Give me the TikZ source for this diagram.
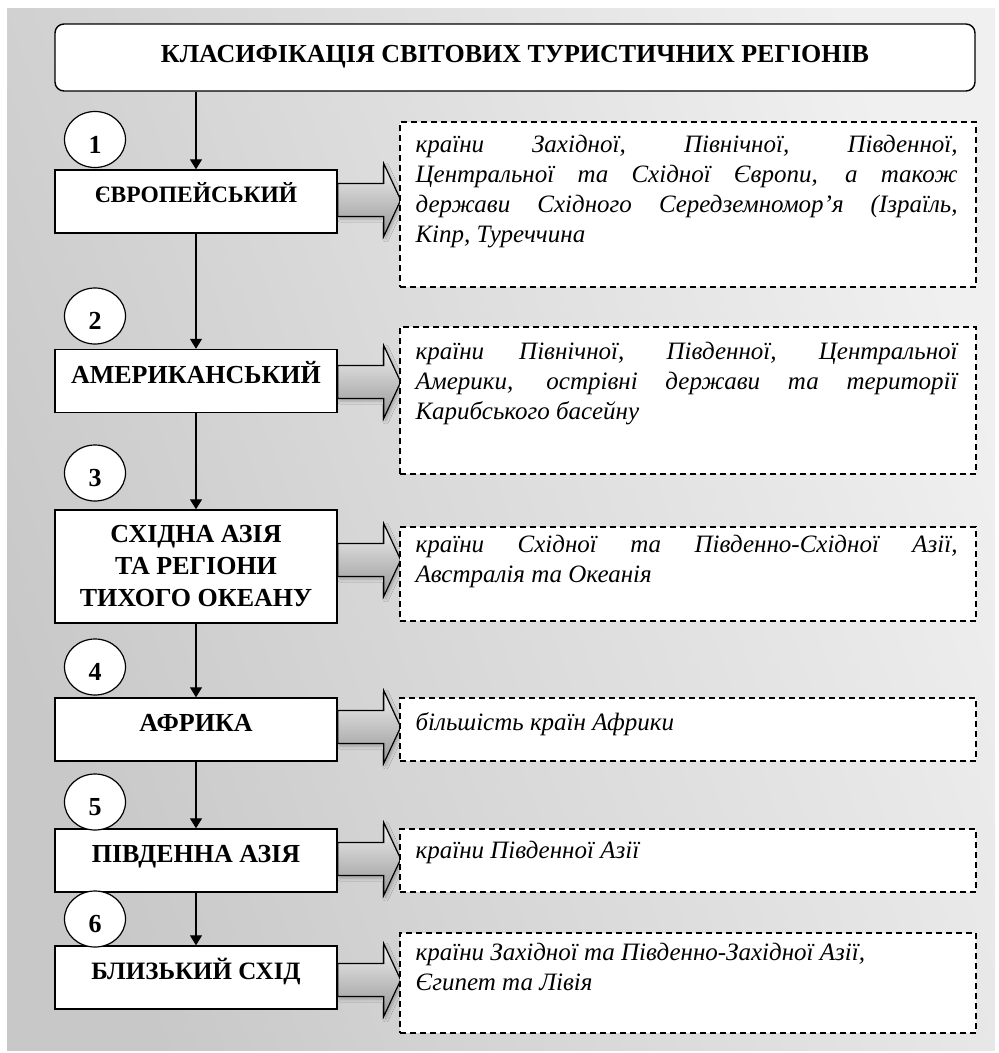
\documentclass[tikz,border=0pt]{standalone}
\usepackage{fontspec}
\setmainfont{Liberation Serif}
\usetikzlibrary{arrows.meta,shadows.blur,calc,shapes.geometric}
\hyphenpenalty=10000
\exhyphenpenalty=10000
\definecolor{bgdark}{RGB}{200,200,200}
\definecolor{bglight}{RGB}{240,240,240}
\definecolor{arrowtop}{RGB}{240,240,240}
\definecolor{arrowbot}{RGB}{150,150,150}
\newcommand{\blockarrow}[2]{%
  \path[barrow] (#1.east |- 0,#2) ++(0,-16.5) -- ++(46,0) -- ++(0,-20) -- ++(17,36.5)
     -- ++(-17,36.5) -- ++(0,-20) -- ++(-46,0) -- cycle;}
\newcommand{\desctext}[1]{\parbox{542pt}{\fontsize{25}{30}\selectfont\itshape\strut #1}}
\begin{document}
\begin{tikzpicture}[x=1pt,y=-1pt,
  titlebox/.style={draw, line width=1.4pt, fill=white, rounded corners=9pt,
    minimum width=920pt, minimum height=67pt, inner sep=0pt,
    font=\fontsize{26}{32}\selectfont\bfseries, text height=18pt, text depth=9pt},
  regbox/.style={draw, line width=1.4pt, fill=white, minimum width=282pt,
    minimum height=63pt, inner sep=0pt, align=center,
    font=\fontsize{26}{32}\selectfont\bfseries},
  raised/.style={text height=17pt, text depth=13pt},
  numcirc/.style={ellipse, draw, line width=1.2pt, fill=white, minimum width=61pt,
    minimum height=56pt, inner sep=0pt, font=\fontsize{26}{30}\selectfont\bfseries,
    text height=27pt, text depth=0pt},
  dbox/.style={draw, dashed, dash pattern=on 6pt off 4pt, line width=1.2pt,
    fill=white, minimum width=576pt, inner sep=0pt},
  desc/.style={anchor=north west, inner sep=0pt},
  conn/.style={line width=1.2pt, -{Triangle[length=10pt,width=12pt]}},
  barrow/.style={draw, line width=1.2pt, top color=arrowtop, bottom color=arrowbot,
    blur shadow={shadow xshift=2pt, shadow yshift=-2.5pt, shadow blur radius=3pt, shadow opacity=25}},
]
\useasboundingbox (0,0) rectangle (999,1053);
\shade[top color=bgdark, bottom color=bglight, shading angle=110] (7,8) rectangle (995,1050);

% title
\node[titlebox] (title) at (515,57.5) {КЛАСИФІКАЦІЯ СВІТОВИХ ТУРИСТИЧНИХ РЕГІОНІВ};

% region boxes
\node[regbox, raised, font=\fontsize{23.5}{30}\selectfont\bfseries, text height=16pt, text depth=14pt] (b1) at (196,201.5) {ЄВРОПЕЙСЬКИЙ};
\node[regbox, raised] (b2) at (196,381) {АМЕРИКАНСЬКИЙ};
\node[regbox, minimum height=113pt] (b3) at (196,566.5) {СХІДНА АЗІЯ\\ТА РЕГІОНИ\\ТИХОГО ОКЕАНУ};
\node[regbox, raised] (b4) at (196,729.5) {АФРИКА};
\node[regbox, raised] (b5) at (196,860.5) {ПІВДЕННА АЗІЯ};
\node[regbox, raised, font=\fontsize{25}{30}\selectfont\bfseries] (b6) at (196,977.5) {БЛИЗЬКИЙ СХІД};

% number circles
\node[numcirc] (n1) at (95,139.5) {1};
\node[numcirc] (n2) at (95,316) {2};
\node[numcirc] (n3) at (95,473) {3};
\node[numcirc] (n4) at (95,667) {4};
\node[numcirc] (n5) at (95,802) {5};
\node[numcirc] (n6) at (95,919) {6};

% connectors
\draw[conn] (title.south -| b1.north) -- (b1.north);
\draw[conn] (b1.south) -- (b2.north);
\draw[conn] (b2.south) -- (b3.north);
\draw[conn] (b3.south) -- (b4.north);
\draw[conn] (b4.south) -- (b5.north);
\draw[conn] (b5.south) -- (b6.north);

% block arrows
\blockarrow{b1}{200}
\blockarrow{b2}{382}
\blockarrow{b3}{560}
\blockarrow{b4}{727}
\blockarrow{b5}{859}
\blockarrow{b6}{980}

% description boxes
\node[dbox, minimum height=165pt] (d1) at (688,204.5) {};
\node[dbox, minimum height=147pt] (d2) at (688,400.5) {};
\node[dbox, minimum height=94pt]  (d3) at (688,574) {};
\node[dbox, minimum height=63pt]  (d4) at (688,729.5) {};
\node[dbox, minimum height=63pt]  (d5) at (688,860.5) {};
\node[dbox, minimum height=100pt] (d6) at (688,983) {};

\node[desc] (t1) at ($(d1.north west)+(16,10)$) {\desctext{країни Західної, Північної, Південної,\linebreak
 Центральної та Східної Європи, а також\linebreak
 держави Східного Середземномор’я (Ізраїль,\linebreak
 Кіпр, Туреччина}};
\node[desc] (t2) at ($(d2.north west)+(16,12)$) {\desctext{країни Північної, Південної, Центральної\linebreak
 Америки, острівні держави та території\linebreak
 Карибського басейну}};
\node[desc] (t3) at ($(d3.north west)+(16,5)$) {\desctext{країни Східної та Південно-Східної Азії,\linebreak
 Австралія та Океанія}};
\node[desc] (t4) at ($(d4.north west)+(16,12)$) {\desctext{більшість країн Африки}};
\node[desc] (t5) at ($(d5.north west)+(16,9)$) {\desctext{країни Південної Азії}};
\node[desc] (t6) at ($(d6.north west)+(16,7)$) {\desctext{країни Західної та Південно-Західної Азії,\\
 Єгипет та Лівія}};
\end{tikzpicture}
\end{document}
